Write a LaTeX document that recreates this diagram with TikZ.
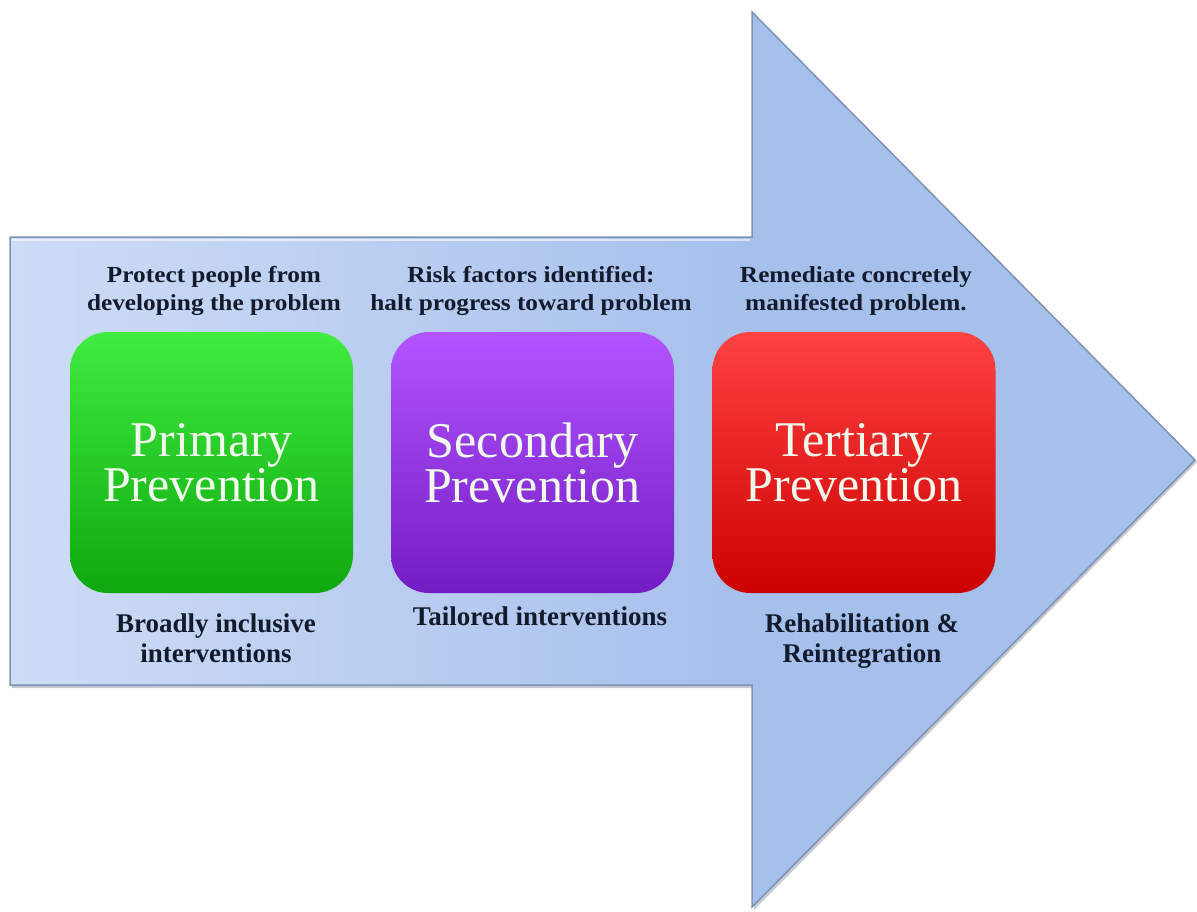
\documentclass[tikz,border=0pt]{standalone}
\usepackage{fontspec}
\setmainfont{Liberation Serif}
\newfontfamily\capfont{Liberation Serif}[FakeStretch=1.1]
\usepackage{tikz}
\usetikzlibrary{positioning}

\definecolor{shaft_light}{HTML}{CEDCF6}
\definecolor{arrow_blue}{HTML}{A6C0EC}
\definecolor{arrow_edge}{HTML}{8092B4}
\definecolor{label_text}{HTML}{131A2B}
\definecolor{box_text}{HTML}{F1FAEC}

\tikzset{
    prev_box/.style={rounded corners=38pt, minimum width=283pt, minimum height=261pt,
        inner sep=0pt, align=center, text=box_text, font=\fontsize{50}{45}\selectfont},
    top_label/.style={align=center, text=label_text, font=\capfont\bfseries\fontsize{23}{28}\selectfont},
    bot_label/.style={align=center, text=label_text, font=\bfseries\fontsize{27}{30}\selectfont},
}

\begin{document}
\begin{tikzpicture}[x=1pt, y=-1pt]
    \useasboundingbox (0,0) rectangle (1197,911);

    % big arrow
    \fill[arrow_edge!70!black, opacity=0.35] (12,240) -- (754,240) -- (754,15) -- (1197,462) -- (754,910) -- (754,688) -- (12,688) -- cycle;
    \fill[arrow_blue] (10,237) -- (752,237) -- (752,12) -- (1195,460) -- (752,907) -- (752,685) -- (10,685) -- cycle;
    \shade[left color=shaft_light, right color=arrow_blue] (11,238) rectangle (752,684);
    \draw[arrow_edge, line width=1.5pt, line join=miter] (10,237) -- (752,237) -- (752,12) -- (1195,460) -- (752,907) -- (752,685) -- (10,685) -- cycle;
    \draw[white, opacity=0.6, line width=1.5pt] (12,240) -- (750,240);

    % the three levels
    \node[prev_box, top color={rgb,255:red,64;green,236;blue,64}, middle color={rgb,255:red,28;green,200;blue,28},
        bottom color={rgb,255:red,14;green,168;blue,14}] (box_pri) at (211.5,462.5) {Primary\\Prevention};
    \node[prev_box, top color={rgb,255:red,178;green,84;blue,255}, middle color={rgb,255:red,146;green,44;blue,240},
        bottom color={rgb,255:red,116;green,28;blue,196}] (box_sec) at (532.5,462.5) {Secondary\\Prevention};
    \node[prev_box, top color={rgb,255:red,255;green,66;blue,66}, middle color={rgb,255:red,240;green,18;blue,18},
        bottom color={rgb,255:red,204;green,0;blue,0}] (box_ter) at (854,462.5) {Tertiary\\Prevention};

    \node[top_label] (top_pri) at ([shift={(2.5,-41)}]box_pri.north) {Protect people from\\developing the problem};
    \node[top_label] (top_sec) at ([shift={(-1.5,-41)}]box_sec.north) {Risk factors identified:\\halt progress toward problem};
    \node[top_label] (top_ter) at ([shift={(2,-41)}]box_ter.north) {Remediate concretely\\manifested problem.};

    \node[bot_label] (bot_pri) at ([shift={(4.5,44.7)}]box_pri.south) {Broadly inclusive\\interventions};
    \node[bot_label] (bot_sec) at ([shift={(7.5,22.7)}]box_sec.south) {Tailored interventions};
    \node[bot_label] (bot_ter) at ([shift={(8,47.7)}]box_ter.south) {Rehabilitation \&\\Reintegration};

\end{tikzpicture}
\end{document}
